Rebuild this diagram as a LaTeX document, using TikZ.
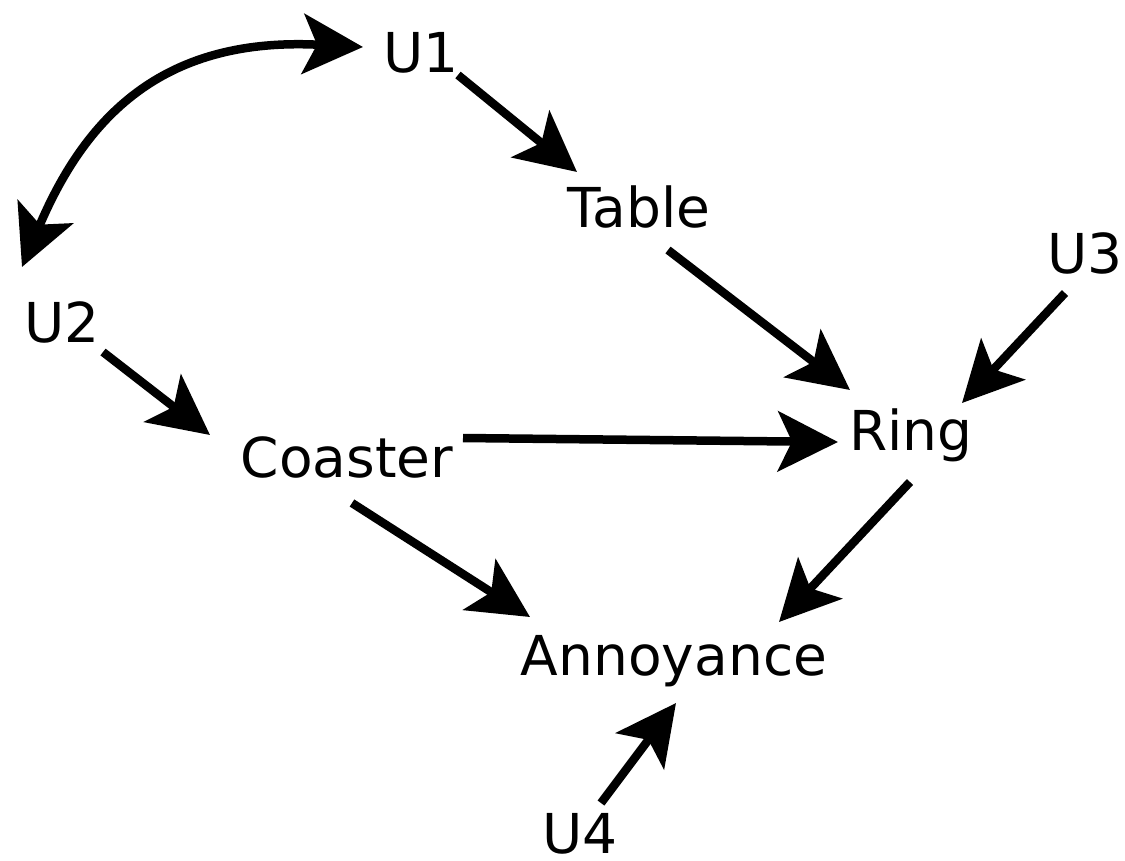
\documentclass[tikz,border=0pt]{standalone}
\usepackage{fontspec}
\setmainfont{DejaVu Sans}
\usetikzlibrary{arrows.meta}
\begin{document}
\begin{tikzpicture}[x=1pt,y=-1pt,
  lbl/.style={anchor=base,inner sep=0pt,font=\fontsize{55}{66}\selectfont},
  arr/.style={line width=8.5pt,-{Stealth[length=60pt,width=60pt,inset=14pt]}},
  barr/.style={line width=8.5pt,{Stealth[length=60pt,width=60pt,inset=14pt]}-{Stealth[length=60pt,width=60pt,inset=14pt]}}]
\useasboundingbox (0,0) rectangle (1125,860);
\node[lbl] (U1) at (421,72) {U1};
\node[lbl] (Table) at (639,227) {Table};
\node[lbl] (U3) at (1085,273) {U3};
\node[lbl] (U2) at (62,342) {U2};
\node[lbl] (Ring) at (911,450) {Ring};
\node[lbl] (Coaster) at (347,477) {Coaster};
\node[lbl] (Annoyance) at (674,675) {Annoyance};
\node[lbl] (U4) at (580,853) {U4};
\draw[arr] ([shift={(37,3)}]U1.base) -- ([shift={(-62,-55)}]Table.base);
\draw[arr] ([shift={(29,23)}]Table.base) -- ([shift={(-61,-60)}]Ring.base);
\draw[arr] ([shift={(-20,20)}]U3.base) -- ([shift={(51,-47)}]Ring.base);
\draw[arr] ([shift={(41,10)}]U2.base) -- ([shift={(-137,-42)}]Coaster.base);
\draw[arr] ([shift={(116,-39)}]Coaster.base) -- ([shift={(-73,-8)}]Ring.base);
\draw[arr] ([shift={(5,26)}]Coaster.base) -- ([shift={(-144,-58)}]Annoyance.base);
\draw[arr] ([shift={(-1,32)}]Ring.base) -- ([shift={(105,-53)}]Annoyance.base);
\draw[arr] ([shift={(21,-50)}]U4.base) -- ([shift={(2,28)}]Annoyance.base);
\draw[barr] ([shift={(-40,-75)}]U2.base) .. controls +(66,-156) and +(-195,-10) .. ([shift={(-58,-25)}]U1.base);
\end{tikzpicture}
\end{document}
